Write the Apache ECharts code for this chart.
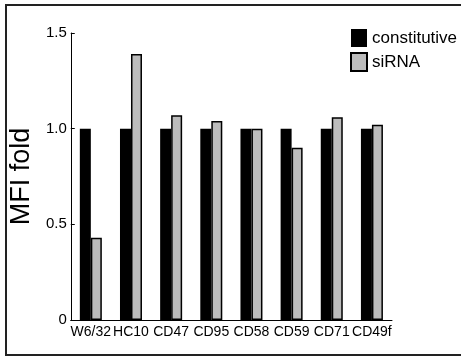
<!DOCTYPE html>
<html>
<head>
<meta charset="utf-8">
<script src="https://cdn.jsdelivr.net/npm/echarts@6/dist/echarts.min.js"></script>
<style>
  html, body { margin: 0; padding: 0; background: #fff; }
  #chart { width: 461px; height: 358px; }
</style>
</head>
<body>
<div id="chart"></div>
<script>
// markers on the x axis
var categories = ['W6/32', 'HC10', 'CD47', 'CD95', 'CD58', 'CD59', 'CD71', 'CD49f'];
// MFI fold, constitutive vs siRNA
var constitutive = [1.0, 1.0, 1.0, 1.0, 1.0, 1.0, 1.0, 1.0];
var sirna = [0.43, 1.39, 1.07, 1.04, 1.0, 0.90, 1.06, 1.02];
var yTicks = ['0', '0.5', '1.0', '1.5'];

var font = "'Liberation Sans', Arial, sans-serif";
var chart = echarts.init(document.getElementById('chart'));

var option = {
  animation: false,
  backgroundColor: '#fff',
  textStyle: { fontFamily: font, color: '#000' },
  graphic: [{
    type: 'rect',
    shape: { x: 6, y: 5, width: 470, height: 350 },
    style: { fill: 'none', stroke: '#222', lineWidth: 2 },
    silent: true
  }],
  legend: {
    orient: 'vertical',
    left: 345,
    top: 24,
    itemWidth: 16,
    itemHeight: 18,
    itemGap: 5,
    icon: 'rect',
    textStyle: { fontSize: 17, color: '#000', fontFamily: font },
    data: ['constitutive', 'siRNA']
  },
  grid: { left: 70, right: 69, top: 33, bottom: 38 },
  xAxis: {
    type: 'category',
    data: categories,
    axisLine: { lineStyle: { color: '#000', width: 1 } },
    axisTick: { inside: true, length: 4, lineStyle: { color: '#000' } },
    axisLabel: { interval: 0, margin: 5, fontSize: 14, color: '#000', fontFamily: font }
  },
  yAxis: {
    type: 'value',
    min: 0,
    max: 1.5,
    interval: 0.5,
    name: 'MFI fold',
    nameLocation: 'middle',
    nameGap: 33,
    nameTextStyle: { fontSize: 27, color: '#000', fontFamily: font },
    axisLine: { show: true, lineStyle: { color: '#000', width: 1 } },
    axisTick: { show: true, inside: true, length: 4, lineStyle: { color: '#000' } },
    splitLine: { show: false },
    axisLabel: {
      margin: 4,
      fontSize: 15,
      color: '#000',
      fontFamily: font,
      formatter: function (v) { return yTicks[Math.round(v / 0.5)]; }
    }
  },
  series: [
    {
      name: 'constitutive',
      type: 'bar',
      data: constitutive,
      barWidth: 11,
      barGap: '0%',
      itemStyle: { color: '#000' }
    },
    {
      name: 'siRNA',
      type: 'bar',
      data: sirna,
      barWidth: 11,
      itemStyle: { color: '#bcbcbc', borderColor: '#000', borderWidth: 1.5 }
    }
  ]
};
chart.setOption(option);
</script>
</body>
</html>
